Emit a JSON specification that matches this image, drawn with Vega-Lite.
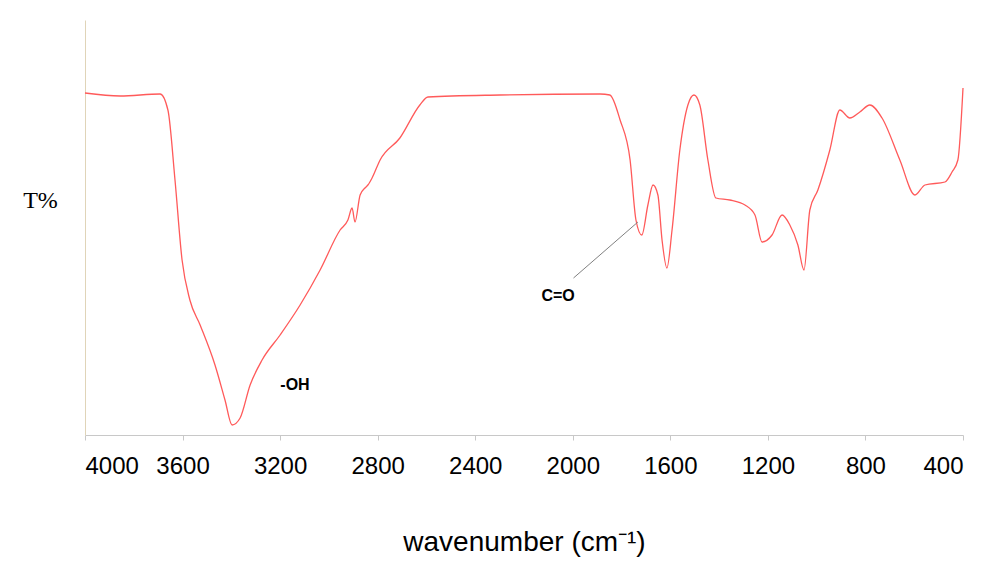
{
  "$schema": "https://vega.github.io/schema/vega-lite/v6.json",
  "width": 878,
  "height": 415,
  "autosize": "none",
  "padding": {"left": 85, "top": 20, "right": 37, "bottom": 133},
  "background": "white",
  "config": {"view": {"stroke": null}, "font": "Liberation Sans"},
  "datasets": {
    "spec": [
      {"w":4000,"t":342},{"w":3856,"t":339},{"w":3692,"t":341},{"w":3660,"t":325},{"w":3631,"t":255},{"w":3602,"t":175},{"w":3570,"t":135},{"w":3528,"t":110},{"w":3467,"t":70},{"w":3426,"t":35},{"w":3397,"t":10},{"w":3364,"t":17},{"w":3323,"t":50},{"w":3274,"t":75},{"w":3200,"t":100},{"w":3118,"t":130},{"w":3036,"t":165},{"w":2954,"t":205},{"w":2922,"t":215},{"w":2905,"t":227},{"w":2893,"t":213},{"w":2872,"t":240},{"w":2852,"t":247},{"w":2840,"t":250},{"w":2823,"t":257},{"w":2790,"t":275},{"w":2709,"t":297},{"w":2627,"t":330},{"w":2594,"t":338},{"w":2298,"t":340},{"w":1888,"t":341},{"w":1848,"t":340},{"w":1806,"t":315},{"w":1765,"t":275},{"w":1741,"t":215},{"w":1717,"t":200},{"w":1692,"t":230},{"w":1671,"t":250},{"w":1651,"t":240},{"w":1634,"t":195},{"w":1614,"t":167},{"w":1593,"t":205},{"w":1561,"t":285},{"w":1528,"t":330},{"w":1503,"t":340},{"w":1479,"t":330},{"w":1446,"t":275},{"w":1413,"t":237},{"w":1356,"t":235},{"w":1294,"t":230},{"w":1253,"t":220},{"w":1224,"t":193},{"w":1183,"t":200},{"w":1142,"t":220},{"w":1110,"t":210},{"w":1077,"t":190},{"w":1052,"t":165},{"w":1028,"t":225},{"w":995,"t":245},{"w":946,"t":285},{"w":905,"t":325},{"w":864,"t":317},{"w":823,"t":323},{"w":782,"t":330},{"w":732,"t":317},{"w":659,"t":275},{"w":597,"t":240},{"w":556,"t":250},{"w":474,"t":253},{"w":445,"t":263},{"w":421,"t":275},{"w":400,"t":347}
    ],
    "leader": [{"w":1997,"t":157},{"w":1733,"t":213}],
    "labels": [{"w":2060,"t":139,"txt":"C=O"},{"w":3139,"t":50,"txt":"-OH"}]
  },
  "encoding": {
    "x": {"field":"w","type":"quantitative","scale":{"domain":[4000,400],"nice":false},
      "axis":{"values":[4000,3600,3200,2800,2400,2000,1600,1200,800,400],"format":"d","title":"wavenumber (cm⁻¹)","labelFontSize":24,"titleFontSize":28,"titleFontWeight":"normal","titlePadding":50,"labelPadding":14,"grid":false,"domainColor":"#c8c8c8","tickColor":"#c8c8c8","tickSize":5,"labelColor":"#000","titleColor":"#000"}},
    "y": {"field":"t","type":"quantitative","scale":{"domain":[0,415],"nice":false},
      "axis":{"title":"T%","labels":false,"ticks":false,"grid":false,"domainColor":"#e0d4b8","titleAngle":0,"titleFont":"Liberation Serif","titleFontSize":24,"titleFontWeight":"normal","titleX":-45,"titleY":192,"titleColor":"#000"}}
  },
  "layer": [
    {"data":{"name":"spec"},"mark":{"type":"line","color":"#ff5a5a","strokeWidth":1.3,"interpolate":"monotone"}},
    {"data":{"name":"leader"},"mark":{"type":"line","color":"#808080","strokeWidth":1}},
    {"data":{"name":"labels"},"mark":{"type":"text","fontWeight":"bold","fontSize":16,"font":"Liberation Sans"},"encoding":{"text":{"field":"txt"}}}
  ]
}
